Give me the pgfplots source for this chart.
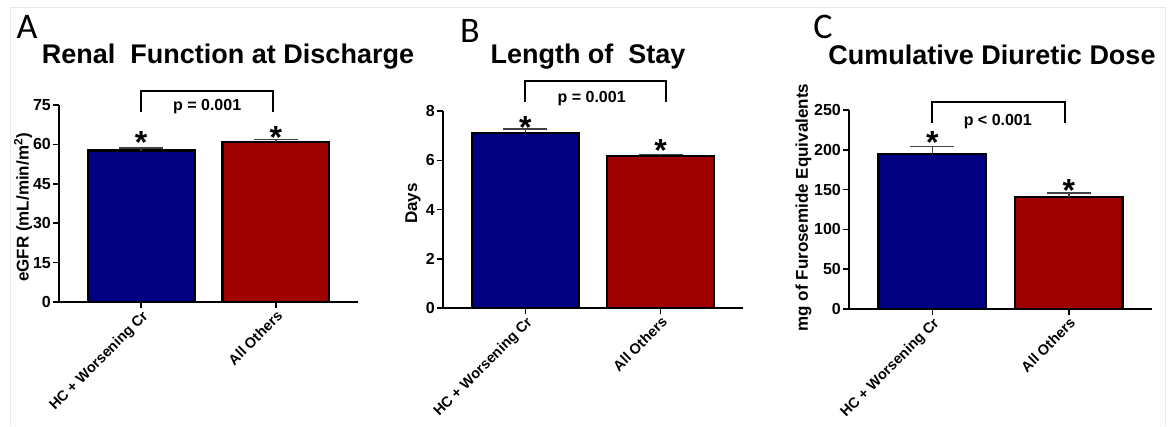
\documentclass[border=0pt]{standalone}
\usepackage{pgfplots}
\pgfplotsset{compat=1.18}
\usepackage{fontspec}
\setmainfont{Liberation Sans}
\newfontfamily\letterfont{Carlito}
\definecolor{barblue}{RGB}{0,0,128}
\definecolor{barred}{RGB}{158,0,0}
\tikzset{
 star/.style={font=\fontsize{32}{32}\selectfont\bfseries, anchor=base},
 pval/.style={font=\fontsize{16}{18}\selectfont\bfseries},
 ttl/.style={font=\fontsize{27}{30}\selectfont\bfseries},
}
\pgfplotsset{
 panel/.style={
  scale only axis, anchor=south west,
  axis lines=left, axis line style={-, line width=1.5pt},
  xmin=-0.61, xmax=1.61, ymin=0,
  xtick={0,1}, xticklabels={HC + Worsening Cr, All Others},
  tick align=outside, major tick length=6pt, tick style={line width=1.5pt, black},
  xticklabel style={rotate=45, anchor=north east, font=\fontsize{14.5}{16}\selectfont\bfseries, inner sep=1pt},
  yticklabel style={font=\fontsize{16}{18}\selectfont\bfseries, inner sep=2pt},
  /pgf/number format/assume math mode=true,
  ybar, bar width=0.79, bar shift=0pt,
  clip=false,
  ylabel style={font=\fontsize{17}{19}\selectfont\bfseries, anchor=center},
 },
 bars/.style={fill=#1, draw=black, line width=2.5pt,
   error bars/.cd, y dir=plus, y explicit,
   error bar style={line width=1.5pt, black!75},
   error mark options={rotate=90, mark size=22pt, line width=1.5pt, black!75}},
}
\begin{document}
\begin{tikzpicture}[x=1pt,y=1pt]
\path (0,0) rectangle (1175,426);
\draw[gray!18, line width=1pt] (10,0) -- (10,418) -- (1165,418) -- (1165,0);
\coordinate (pA) at (59,124);
\coordinate (pB) at (443,118);
\coordinate (pC) at (849,117);
% Panel A
\begin{axis}[panel, at={(pA)}, width=299pt, height=197pt, ymax=75,
  ytick={0,15,30,45,60,75},
  ylabel={eGFR (mL/min/m\textsuperscript{2})},
  ylabel style={at={(axis description cs:-0.12,0.48)}}]
\addplot[bars=barblue] coordinates {(0,57.6) +- (0,1.1)};
\addplot[bars=barred] coordinates {(1,61.0) +- (0,0.9)};
\node[star] at (axis cs:0,56.4) {*};
\node[star] at (axis cs:1,58.3) {*};
\draw[line width=2pt] (axis cs:0,72.3) -- (axis cs:0,80.3) -- (axis cs:0.98,80.3) -- (axis cs:0.98,72.3);
\node[pval] at (axis cs:0.49,74.4) {p = 0.001};
\end{axis}
\node[ttl] at (228,369) {Renal\ \ Function at Discharge};
\node[font=\letterfont\fontsize{36}{40}\selectfont] at (27,399) {A};
% Panel B
\begin{axis}[panel, at={(pB)}, width=300pt, height=197pt, ymax=8,
  ytick={0,2,4,6,8},
  ylabel={Days},
  ylabel style={at={(axis description cs:-0.1,0.53)}}]
\addplot[bars=barblue] coordinates {(0,7.1) +- (0,0.16)};
\addplot[bars=barred] coordinates {(1,6.17) +- (0,0.07)};
\node[star] at (axis cs:0,6.87) {*};
\node[star] at (axis cs:1,5.94) {*};
\draw[line width=2pt] (axis cs:0,8.37) -- (axis cs:0,9.22) -- (axis cs:1.04,9.22) -- (axis cs:1.04,8.37);
\node[pval] at (axis cs:0.49,8.5) {p = 0.001};
\end{axis}
\node[ttl] at (588,369) {Length of\ \ Stay};
\node[font=\letterfont\fontsize{36}{40}\selectfont] at (470,395) {B};
% Panel C
\begin{axis}[panel, at={(pC)}, width=303pt, height=199pt, ymax=250,
  ytick={0,50,100,150,200,250},
  ylabel={mg of Furosemide Equivalents},
  ylabel style={at={(axis description cs:-0.15,0.51)}}]
\addplot[bars=barblue] coordinates {(0,195) +- (0,9)};
\addplot[bars=barred] coordinates {(1,141) +- (0,4.5)};
\node[star] at (axis cs:0,195) {*};
\node[star] at (axis cs:1,135) {*};
\draw[line width=2pt] (axis cs:0,233.7) -- (axis cs:0,260) -- (axis cs:0.97,260) -- (axis cs:0.97,233.7);
\node[pval] at (axis cs:0.48,236) {p < 0.001};
\end{axis}
\node[ttl] at (992,371) {Cumulative Diuretic Dose};
\node[font=\letterfont\fontsize{36}{40}\selectfont] at (823,399) {C};
\end{tikzpicture}
\end{document}
